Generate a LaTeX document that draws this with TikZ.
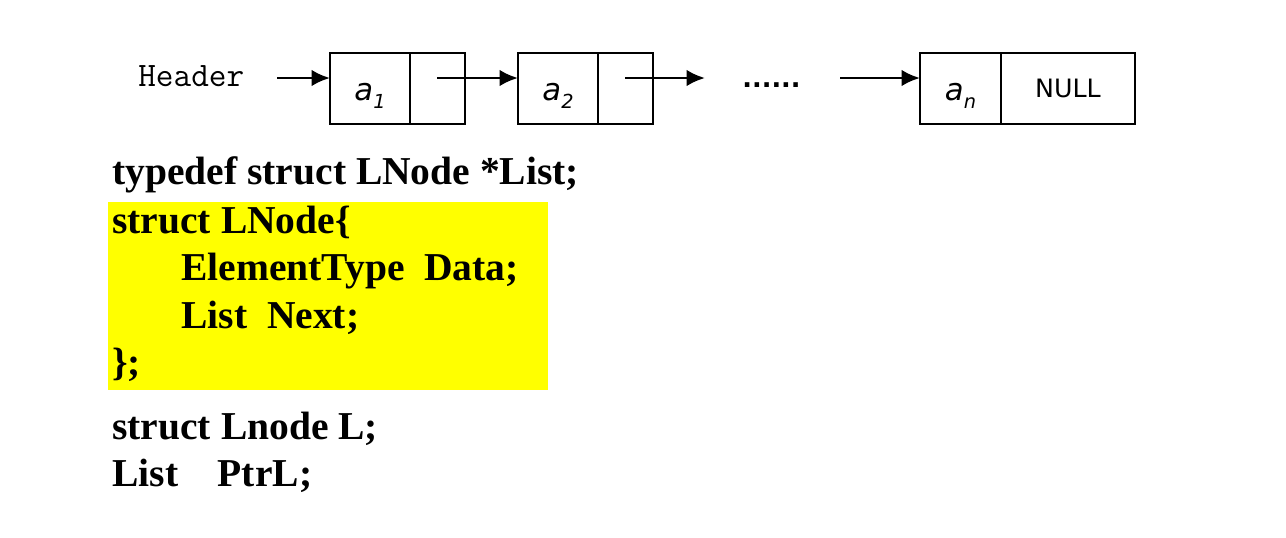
\documentclass[tikz,border=0pt]{standalone}
\usepackage{fontspec}
\setmainfont{Liberation Serif}
\newfontfamily\cellfont{DejaVu Sans}
\usetikzlibrary{arrows.meta,positioning,calc}
\definecolor{hilite}{RGB}{255,255,0}
\newcommand{\elem}[1]{\raisebox{-7pt}[0pt][0pt]{{\itshape a}\raisebox{-.45ex}{\fontsize{11}{12}\selectfont\itshape #1}}}

\begin{document}
\begin{tikzpicture}[x=0.02cm,y=-0.02cm,
  cell/.style={draw,line width=1.5pt,inner sep=0pt,outer sep=0pt,minimum height=1.42cm,font=\cellfont\fontsize{17.5}{20}\selectfont},
  ptr/.style={-{Latex[length=10.5pt,width=9.5pt]},line width=1.6pt},
  code/.style={anchor=base west,inner sep=0pt,font=\fontsize{22.5}{26}\selectfont\bfseries}]
\useasboundingbox (0,0) rectangle (1286,538);
\fill[hilite] (108,202) rectangle (548,390);
\node[anchor=base west,inner sep=0pt,font=\ttfamily\fontsize{19.5}{20}\selectfont] (hdr) at (138,86) {Header};
\coordinate (hout) at (277,78);
\node[cell,minimum width=1.6cm] (d1) at (370,88.5) {\elem{1}};
\node[cell,minimum width=1.1cm,right=0pt of d1] (l1) {};
\node[cell,minimum width=1.6cm] (d2) at (558,88.5) {\elem{2}};
\node[cell,minimum width=1.1cm,right=0pt of d2] (l2) {};
\node[cell,minimum width=1.62cm] (dn) at (960.5,88.5) {\elem{n}};
\node[cell,minimum width=2.68cm,right=0pt of dn,font=\cellfont\fontsize{14.4}{16}\selectfont] (ln) {NULL};
\node[inner sep=0pt,font=\cellfont\bfseries\fontsize{14.5}{16}\selectfont] (dots) at (771.5,85) {......};
\coordinate (gap1) at (705,78);
\coordinate (gap2) at (840,78);
\draw[ptr] (hout) -- (d1.west |- hout);
\draw[ptr] (l1.center |- hout) -- (d2.west |- hout);
\draw[ptr] (l2.center |- hout) -- (gap1);
\draw[ptr] (gap2) -- (dn.west |- hout);
\foreach \i/\x/\y/\txt in {1/112/184/{typedef struct LNode *List;},2/112/233/{struct LNode\{},3/181/280/{ElementType\ \ Data;},4/181/328/{List\ \ Next;},5/112/375/{\};},6/112/439/{struct Lnode L;},7/112/486/{List\ \ \ \ PtrL;}}
  \node[code] (line\i) at (\x,\y) {\txt};
\end{tikzpicture}
\end{document}
